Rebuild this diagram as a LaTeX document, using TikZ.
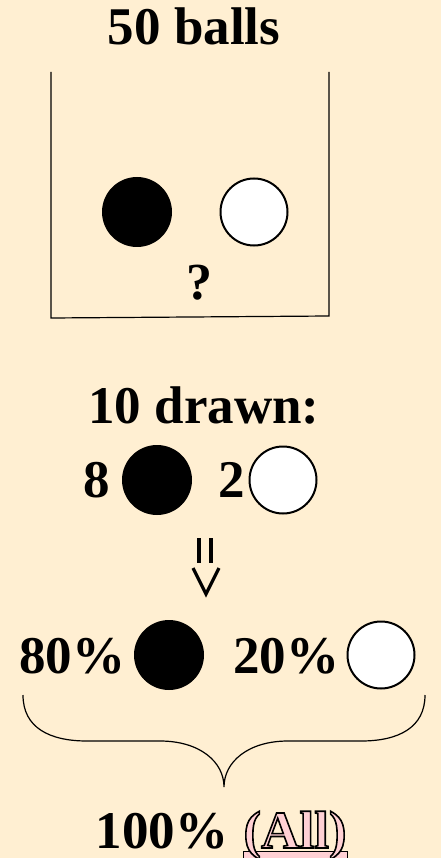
\documentclass[tikz,border=0pt]{standalone}
\usepackage{fontspec}
\setmainfont{Liberation Serif}
\definecolor{bg}{HTML}{FFEFD2}
\definecolor{pinkfill}{HTML}{FFD0D4}
\newcommand{\outlinedtext}[1]{\special{pdf:literal direct 2 Tr 1.6 w 0 G}#1\special{pdf:literal direct 0 Tr}}
\begin{document}
\begin{tikzpicture}[x=1pt,y=-1pt,
  big/.style={font=\fontsize{53}{60}\selectfont\bfseries, inner sep=0pt, anchor=base},
  blackball/.style={circle, fill=black, minimum size=70pt, inner sep=0pt},
  whiteball/.style={circle, fill=white, draw=black, line width=2pt, minimum size=67pt, inner sep=0pt}]
\fill[bg] (0,0) rectangle (441,858);
\useasboundingbox (0,0) rectangle (441,858);
% title
\node[big] (title) at (194,45) {50 balls};
% box
\coordinate (tl) at (51,72);
\coordinate (bl) at (51,318);
\coordinate (br) at (329,316);
\coordinate (tr) at (329,72);
\draw[line width=1.2pt] (tl) -- (bl) -- (br) -- (tr);
\node[blackball] (b1) at (137,212) {};
\node[whiteball] (w1) at (254,212) {};
\node[font=\fontsize{52}{54}\selectfont\bfseries, inner sep=0pt, anchor=base] (q) at (199,299) {?};
% drawn
\node[big] (drawn) at (204,423) {10 drawn:};
\node[big] (eight) at (97,497) {8};
\node[blackball] (b2) at (157,480) {};
\node[big] (two) at (232,497) {2};
\node[whiteball] (w2) at (283,480) {};
% implies arrow
\coordinate (e1a) at (199,538); \coordinate (e1b) at (199,563);
\coordinate (e2a) at (211,538); \coordinate (e2b) at (211,563);
\coordinate (va) at (193,568); \coordinate (vb) at (206,594); \coordinate (vc) at (219,568);
\draw[line width=3.2pt] (e1a) -- (e1b);
\draw[line width=3.2pt] (e2a) -- (e2b);
\draw[line width=3.2pt, line join=miter] (va) -- (vb) -- (vc);
% percentages
\node[big] (p80) at (72,673) {80\%};
\node[blackball] (b3) at (169,655) {};
\node[big] (p20) at (286,673) {20\%};
\node[whiteball] (w3) at (381,655) {};
% brace
\coordinate (bra) at (23,695);
\coordinate (brb) at (87,741);
\coordinate (brc) at (160,741);
\coordinate (tip) at (224,787);
\coordinate (brd) at (288,741);
\coordinate (bre) at (361,741);
\coordinate (brf) at (425,695);
\draw[line width=1.2pt] (bra) .. controls (23,728) and (50,741) .. (brb) -- (brc)
  .. controls (200,741) and (224,762) .. (tip)
  .. controls (224,762) and (248,741) .. (brd) -- (bre)
  .. controls (398,741) and (425,728) .. (brf);
% bottom
\node[big] (p100) at (162,848) {100\%};
\draw[fill=pinkfill, line width=1pt] (243,851) rectangle (347,862);
\node[big, text=pinkfill] (all) at (295,848) {\outlinedtext{(All)}};
\end{tikzpicture}
\end{document}
